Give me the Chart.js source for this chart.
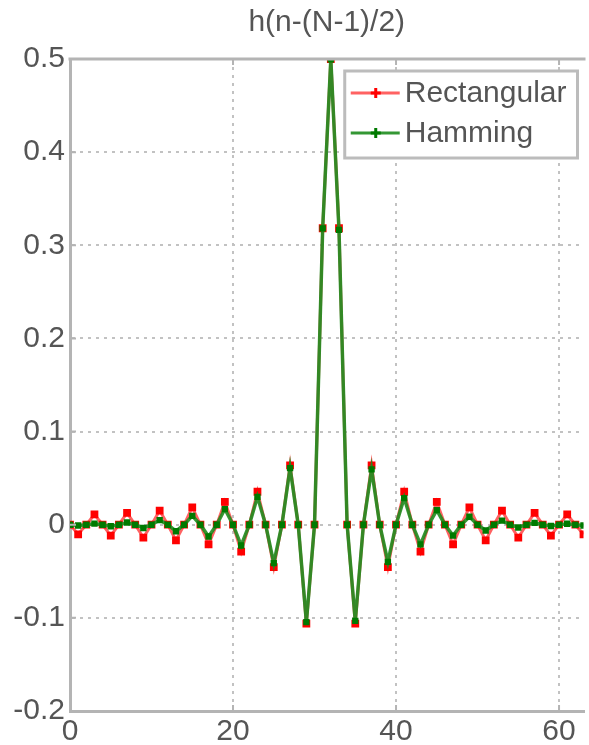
<!DOCTYPE html>
<html>
<head>
<meta charset="utf-8">
<script src="https://cdn.jsdelivr.net/npm/chart.js@4/dist/chart.umd.min.js"></script>
<style>
  html, body { margin: 0; padding: 0; background: #fff; }
  canvas { display: block; }
</style>
</head>
<body>
<canvas id="grafico" width="589" height="745"></canvas>
<script>
// amostras n
const n = [
  0, 1, 2, 3, 4, 5, 6, 7,
  8, 9, 10, 11, 12, 13, 14, 15,
  16, 17, 18, 19, 20, 21, 22, 23,
  24, 25, 26, 27, 28, 29, 30, 31,
  32, 33, 34, 35, 36, 37, 38, 39,
  40, 41, 42, 43, 44, 45, 46, 47,
  48, 49, 50, 51, 52, 53, 54, 55,
  56, 57, 58, 59, 60, 61, 62, 63
];

const rectangular = [
  0, -0.0103, 0, 0.0110, 0, -0.0118, 0, 0.0127,
  0, -0.0138, 0, 0.0152, 0, -0.0168, 0, 0.0187,
  0, -0.0212, 0, 0.0245, 0, -0.0289, 0, 0.0354,
  0, -0.0455, 0, 0.0637, 0, -0.1061, 0, 0.3183,
  0.5, 0.3183, 0, -0.1061, 0, 0.0637, 0, -0.0455,
  0, 0.0354, 0, -0.0289, 0, 0.0245, 0, -0.0212,
  0, 0.0187, 0, -0.0168, 0, 0.0152, 0, -0.0138,
  0, 0.0127, 0, -0.0118, 0, 0.0110, 0, -0.0103
];

const hamming = [
  0, -0.0008, 0, 0.0011, 0, -0.0016, 0, 0.0024,
  0, -0.0035, 0, 0.0050, 0, -0.0070, 0, 0.0095,
  0, -0.0127, 0, 0.0168, 0, -0.0223, 0, 0.0299,
  0, -0.0413, 0, 0.0608, 0, -0.1046, 0, 0.3181,
  0.4997, 0.3166, 0, -0.1032, 0, 0.0594, 0, -0.0399,
  0, 0.0286, 0, -0.0211, 0, 0.0157, 0, -0.0117,
  0, 0.0086, 0, -0.0062, 0, 0.0044, 0, -0.0030,
  0, 0.0020, 0, -0.0014, 0, 0.0010, 0, -0.0008
];

const xTicks = [0, 20, 40, 60];
const yTicks = [-0.2, -0.1, 0, 0.1, 0.2, 0.3, 0.4, 0.5];
const titulo = 'h(n-(N-1)/2)';

const fonte = '"Liberation Sans", Arial, sans-serif';
const corTexto = '#555555';
const corEixo = '#b4b4b4';

function pontos(valores) {
  return valores.map((v, i) => ({ x: n[i], y: v }));
}

// titulo, borda superior, ticks internos e legenda dentro do grafico
const extras = {
  id: 'extras',
  afterDraw(chart) {
    const ctx = chart.ctx;
    const area = chart.chartArea;
    const sx = chart.scales.x;
    const sy = chart.scales.y;
    ctx.save();

    // titulo
    ctx.font = '30px ' + fonte;
    ctx.fillStyle = corTexto;
    ctx.textAlign = 'center';
    ctx.textBaseline = 'middle';
    ctx.fillText(titulo, (area.left + area.right) / 2, 23);

    // borda superior
    ctx.strokeStyle = corEixo;
    ctx.lineWidth = 3;
    ctx.beginPath();
    ctx.moveTo(area.left - 1.5, area.top);
    ctx.lineTo(area.right + 2, area.top);
    ctx.stroke();

    // ticks internos
    ctx.lineWidth = 2;
    ctx.beginPath();
    xTicks.forEach(function (v) {
      const px = sx.getPixelForValue(v);
      ctx.moveTo(px, area.top);
      ctx.lineTo(px, area.top + 6);
      ctx.moveTo(px, area.bottom);
      ctx.lineTo(px, area.bottom - 6);
    });
    yTicks.forEach(function (v) {
      const py = sy.getPixelForValue(v);
      ctx.moveTo(area.left, py);
      ctx.lineTo(area.left + 6, py);
    });
    ctx.stroke();

    // legenda
    const itens = chart.data.datasets.slice().sort((a, b) => a.legendIndex - b.legendIndex);
    ctx.font = '30px ' + fonte;
    let larguraTexto = 0;
    itens.forEach(function (d) {
      larguraTexto = Math.max(larguraTexto, ctx.measureText(d.label).width);
    });
    const caixaW = 60 + larguraTexto + 11;
    const caixaH = 87;
    const caixaX = area.right - 6 - caixaW;
    const caixaY = area.top + 12;
    ctx.fillStyle = '#ffffff';
    ctx.fillRect(caixaX, caixaY, caixaW, caixaH);
    ctx.strokeStyle = '#bcbcbc';
    ctx.lineWidth = 3;
    ctx.strokeRect(caixaX, caixaY, caixaW, caixaH);

    itens.forEach(function (d, i) {
      const ly = caixaY + 22 + i * 40;
      ctx.strokeStyle = d.borderColor;
      ctx.lineWidth = 3;
      ctx.beginPath();
      ctx.moveTo(caixaX + 6, ly);
      ctx.lineTo(caixaX + 55, ly);
      ctx.stroke();
      // marcador +
      const mx = caixaX + 31;
      ctx.strokeStyle = d.pointBackgroundColor;
      ctx.lineWidth = 3;
      ctx.beginPath();
      ctx.moveTo(mx - 5, ly);
      ctx.lineTo(mx + 5, ly);
      ctx.moveTo(mx, ly - 5);
      ctx.lineTo(mx, ly + 5);
      ctx.stroke();
      ctx.fillStyle = corTexto;
      ctx.textAlign = 'left';
      ctx.textBaseline = 'middle';
      ctx.fillText(d.label, caixaX + 60, ly + 1);
    });

    ctx.restore();
  }
};

const ctx = document.getElementById('grafico').getContext('2d');

new Chart(ctx, {
  type: 'line',
  data: {
    datasets: [
      {
        label: 'Rectangular',
        legendIndex: 0,
        order: 2,
        data: pontos(rectangular),
        borderColor: 'rgba(255, 70, 70, 0.85)',
        borderWidth: 3,
        pointStyle: 'rect',
        pointRadius: 5.5,
        pointBorderWidth: 0,
        pointBackgroundColor: '#ff0000',
        pointBorderColor: '#ff0000',
        tension: 0
      },
      {
        label: 'Hamming',
        legendIndex: 1,
        order: 1,
        data: pontos(hamming),
        borderColor: 'rgba(30, 140, 30, 0.9)',
        borderWidth: 3.5,
        pointStyle: 'rect',
        pointRadius: 4.5,
        pointBorderWidth: 0,
        pointBackgroundColor: '#007a00',
        pointBorderColor: '#007a00',
        tension: 0
      }
    ]
  },
  options: {
    responsive: false,
    animation: false,
    layout: {
      padding: { top: 59, right: 2, left: 0, bottom: 0 }
    },
    plugins: {
      legend: { display: false },
      title: { display: false },
      tooltip: { enabled: false }
    },
    scales: {
      x: {
        type: 'linear',
        min: 0,
        max: 63,
        afterBuildTicks: function (scale) {
          scale.ticks = xTicks.map(v => ({ value: v }));
        },
        afterFit: function (scale) {
          scale.height = 34;
        },
        grid: {
          color: '#c2c2c2',
          lineWidth: 2,
          drawTicks: false
        },
        border: {
          display: true,
          color: corEixo,
          width: 3,
          dash: [3, 5]
        },
        ticks: {
          padding: 3,
          maxRotation: 0,
          color: corTexto,
          font: { family: fonte, size: 30 },
          callback: v => String(v)
        }
      },
      y: {
        type: 'linear',
        min: -0.2,
        max: 0.5,
        afterBuildTicks: function (scale) {
          scale.ticks = yTicks.map(v => ({ value: v }));
        },
        afterFit: function (scale) {
          scale.width = 70;
        },
        grid: {
          color: '#c2c2c2',
          lineWidth: 2,
          drawTicks: false
        },
        border: {
          display: true,
          color: corEixo,
          width: 3,
          dash: [3, 5]
        },
        ticks: {
          padding: 5,
          color: corTexto,
          font: { family: fonte, size: 30 },
          callback: v => String(Math.round(v * 10) / 10)
        }
      }
    }
  },
  plugins: [extras]
});
</script>
</body>
</html>
